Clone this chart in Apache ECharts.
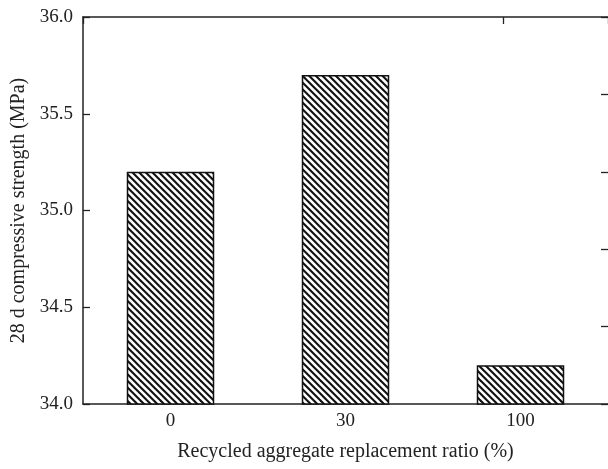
<!DOCTYPE html>
<html>
<head>
<meta charset="utf-8">
<script src="https://cdn.jsdelivr.net/npm/echarts@6/dist/echarts.min.js"></script>
<style>
html,body{margin:0;padding:0;background:#fff;}
#chart{width:608px;height:469px;}
</style>
</head>
<body>
<div id="chart"></div>
<script>
// Replacement ratios and measured 28-day strengths
const categories = ['0', '30', '100'];
const strength = [35.2, 35.7, 34.2];
const yTicks = [34.0, 34.5, 35.0, 35.5, 36.0];

// Diagonal hatch tile ("\\\\" lines), three stripes per tile
function hatchTile() {
  const s = 20;
  const c = document.createElement('canvas');
  c.width = s; c.height = s;
  const g = c.getContext('2d');
  g.fillStyle = '#fff';
  g.fillRect(0, 0, s, s);
  g.strokeStyle = '#111';
  g.lineWidth = 2.1;
  for (let k = -2 * s; k <= 2 * s; k += s / 3) {
    g.beginPath();
    g.moveTo(-4, -4 + k);
    g.lineTo(s + 4, s + 4 + k);
    g.stroke();
  }
  return c;
}

const font = '"Liberation Serif", "DejaVu Serif", serif';
const axisLine = { show: true, lineStyle: { color: '#222', width: 1.5 } };
const tick = { show: true, inside: true, length: 7, lineStyle: { color: '#222', width: 1.3 } };

const chart = echarts.init(document.getElementById('chart'), null, { renderer: 'canvas' });
chart.setOption({
  animation: false,
  backgroundColor: '#fff',
  grid: { left: 83, top: 17, right: -3, bottom: 65, containLabel: false },
  xAxis: [{
    type: 'category',
    data: categories,
    position: 'bottom',
    axisLine: axisLine,
    axisTick: Object.assign({}, tick, { alignWithLabel: true, length: 6 }),
    axisLabel: { color: '#222', fontFamily: font, fontSize: 19, margin: 8 },
    name: 'Recycled aggregate replacement ratio (%)',
    nameLocation: 'middle',
    nameGap: 38,
    nameTextStyle: { color: '#222', fontFamily: font, fontSize: 20 }
  }, {
    type: 'value',
    position: 'top',
    min: 0, max: 1.25, interval: 1,
    axisLine: axisLine,
    axisTick: tick,
    axisLabel: { show: false },
    splitLine: { show: false }
  }],
  yAxis: [{
    type: 'value',
    min: yTicks[0],
    max: yTicks[yTicks.length - 1],
    interval: 0.5,
    axisLine: axisLine,
    axisTick: tick,
    axisLabel: { color: '#222', fontFamily: font, fontSize: 19, margin: 10, formatter: v => v.toFixed(1) },
    splitLine: { show: false },
    name: '28 d compressive strength (MPa)',
    nameLocation: 'middle',
    nameGap: 50,
    nameTextStyle: { color: '#222', fontFamily: font, fontSize: 20 }
  }, {
    type: 'value',
    position: 'right',
    min: 0, max: 5, interval: 1,
    axisLine: { show: false },
    axisTick: tick,
    axisLabel: { show: false },
    splitLine: { show: false }
  }],
  series: [{
    type: 'bar',
    data: strength,
    barWidth: '50%',
    itemStyle: {
      color: { image: hatchTile(), repeat: 'repeat' },
      borderColor: '#111',
      borderWidth: 1.5
    }
  }]
});
</script>
</body>
</html>
